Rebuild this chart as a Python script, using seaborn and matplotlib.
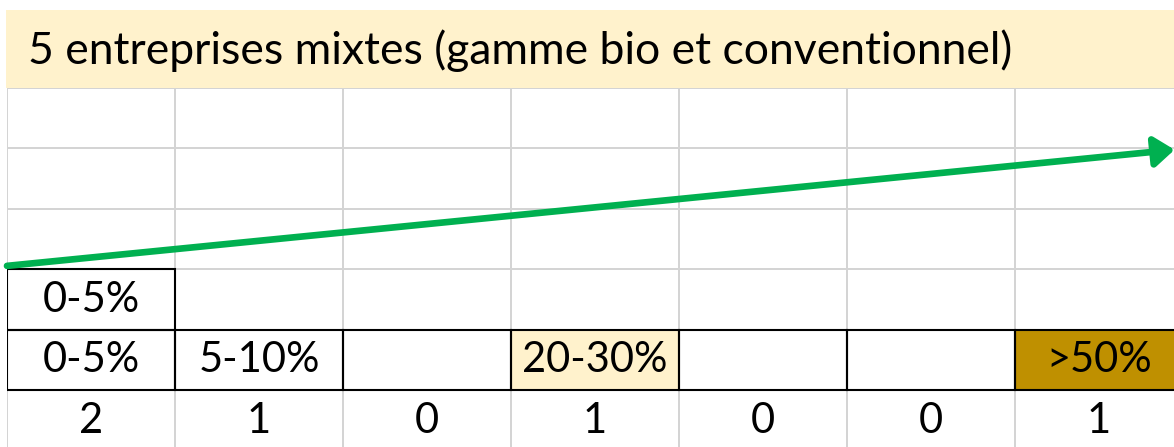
import numpy as np
import matplotlib.pyplot as plt
import seaborn as sns
from matplotlib.colors import ListedColormap
from matplotlib.patches import Rectangle

# data
title = "5 entreprises mixtes (gamme bio et conventionnel)"
bands = ["0-5%", "5-10%", "", "20-30%", "", "", ">50%"]
counts = [2, 1, 0, 1, 0, 0, 1]
shade = [0, 0, 0, 1, 0, 0, 2]   # 0 white, 1 light yellow, 2 gold

n_rows = 6
n_cols = len(bands)

sns.set_theme(style="white")
plt.rcParams["font.family"] = ["Lato", "DejaVu Sans"]

# build the cell grid: empty rows on top, stacked extra box, band row, count row
fill = np.zeros((n_rows, n_cols))
text = np.full((n_rows, n_cols), "", dtype=object)
fill[4, :] = shade
for j in range(n_cols):
    text[4, j] = bands[j]
    text[5, j] = str(counts[j])
    for k in range(1, counts[j]):
        text[4 - k, j] = bands[j]

W, H = 1174, 447
fig = plt.figure(figsize=(W / 100, H / 100), dpi=100)

# header band
fig.add_artist(Rectangle((6 / W, 1 - 88 / H), 1, 78 / H, transform=fig.transFigure,
                         facecolor="#fff2cc", edgecolor="none"))
fig.text(28 / W, 1 - 64 / H, title, fontsize=32, va="baseline", ha="left",
         color="black")

# grid axes: columns 168px wide starting at x=7, rows ~60.5px starting at y=88
ax = fig.add_axes([7 / W, 1 - 451 / H, 168 * n_cols / W, 363 / H])
cmap = ListedColormap(["white", "#fff2cc", "#bf9000"])
sns.heatmap(fill, ax=ax, cmap=cmap, vmin=0, vmax=2, cbar=False,
            annot=text, fmt="", annot_kws={"color": "black", "fontsize": 30},
            linewidths=1.2, linecolor="#d4d4d4",
            xticklabels=False, yticklabels=False)

# black boxes around the filled cells
for j in range(n_cols):
    ax.add_patch(Rectangle((j, 4), 1, 1, fill=False, edgecolor="black", lw=1.5))
    for k in range(1, counts[j]):
        ax.add_patch(Rectangle((j, 4 - k), 1, 1, fill=False, edgecolor="black", lw=1.5))

# green trend arrow
ax.annotate("", xy=(6.95, 1.02), xytext=(0.0, 2.94),
            arrowprops=dict(arrowstyle="-|>,head_length=0.6,head_width=0.45",
                            color="#00b050", lw=4.8, mutation_scale=20,
                            shrinkA=0, shrinkB=0))

fig.savefig("out.png", dpi=100)
